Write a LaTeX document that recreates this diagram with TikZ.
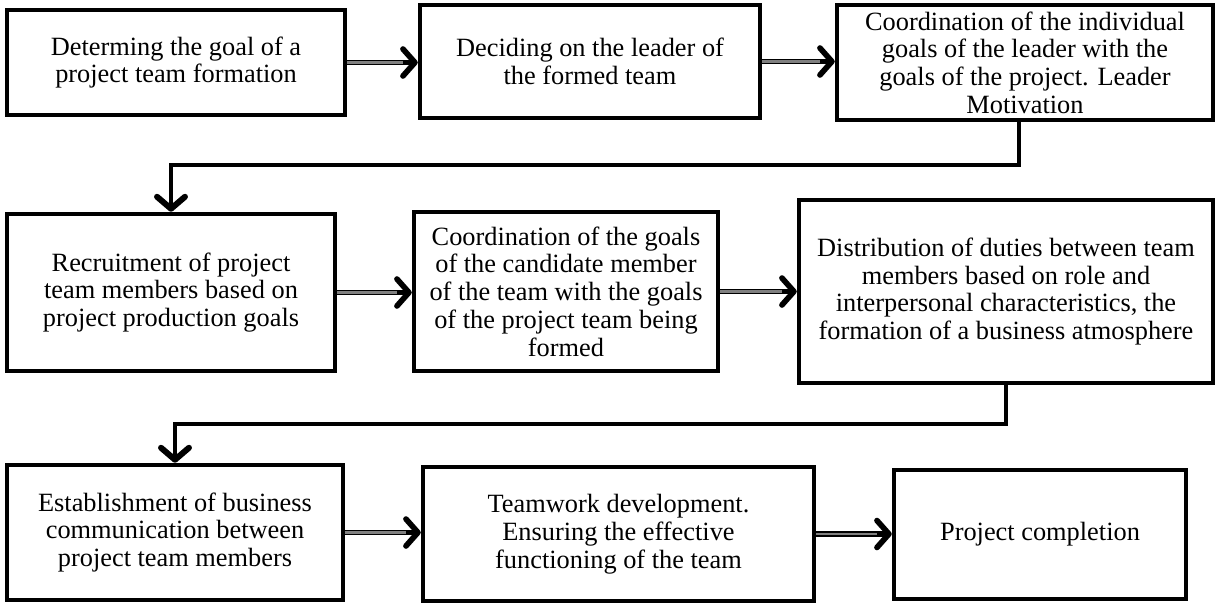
\documentclass[tikz,border=0pt]{standalone}
\usepackage{fontspec}
\setmainfont{Liberation Serif}
\usepackage{tikz}
\usetikzlibrary{arrows.meta,positioning,calc}
\definecolor{shaftGray}{RGB}{128,128,128}

\begin{document}
\begin{tikzpicture}[x=0.02cm,y=-0.02cm,
  stepbox/.style={draw=black, line width=2.6pt, align=center, inner sep=0pt,
    font=\fontsize{15}{15.8}\selectfont},
  flow/.style={draw=black, line width=3.4pt,
    -{Straight Barb[length=2.4mm,width=5.4mm,line width=3.2pt,round]},
    postaction={draw=shaftGray, line width=1.6pt, -, shorten >=3mm}},
  elbow/.style={draw=black, line width=2.6pt,
    -{Straight Barb[length=2.4mm,width=5.6mm,line width=3.4pt,round]}}]
\useasboundingbox (0,0) rectangle (1217,608);

\node[stepbox, minimum width=6.76cm, minimum height=2.10cm] (goal) at (176,62.5)
  {Determing the goal of a\\project team formation};
\node[stepbox, minimum width=6.80cm, minimum height=2.26cm] (leader) at (590,61.5)
  {Deciding on the leader of\\the formed team};
\node[stepbox, minimum width=7.52cm, minimum height=2.30cm] (coord) at (1025,62.5)
  {Coordination of the individual\\goals of the leader with the\\goals of the project. Leader\\Motivation};

\node[stepbox, minimum width=6.56cm, minimum height=3.14cm] (recruit) at (171,292.5)
  {Recruitment of project\\team members based on\\project production goals};
\node[stepbox, minimum width=6.08cm, minimum height=3.18cm] (candidate) at (566,291.5)
  {Coordination of the goals\\of the candidate member\\of the team with the goals\\of the project team being\\formed};
\node[stepbox, minimum width=8.28cm, minimum height=3.66cm] (duties) at (1006,291.5)
  {Distribution of duties between team\\members based on role and\\interpersonal characteristics, the\\formation of a business atmosphere};

\node[stepbox, minimum width=6.72cm, minimum height=2.70cm] (comm) at (175,532.5)
  {Establishment of business\\communication between\\project team members};
\node[stepbox, minimum width=7.82cm, minimum height=2.68cm] (teamwork) at (618.5,534)
  {Teamwork development.\\Ensuring the effective\\functioning of the team};
\node[stepbox, minimum width=5.84cm, minimum height=2.58cm] (finish) at (1040,534.5)
  {Project completion};

\coordinate (bendA) at (171,165);
\coordinate (bendB) at (175,424);

\draw[flow] (goal.east) -- (goal.east -| leader.west);
\draw[flow] (leader.east) -- (leader.east -| coord.west);
\draw[elbow] ([xshift=-0.12cm]coord.south) |- (bendA) -- (recruit.north);
\draw[flow] (recruit.east) -- (recruit.east -| candidate.west);
\draw[flow] (candidate.east) -- (candidate.east -| duties.west);
\draw[elbow] (duties.south) |- (bendB) -- (comm.north);
\draw[flow] (comm.east) -- (comm.east -| teamwork.west);
\draw[flow] (teamwork.east) -- (teamwork.east -| finish.west);
\end{tikzpicture}
\end{document}
